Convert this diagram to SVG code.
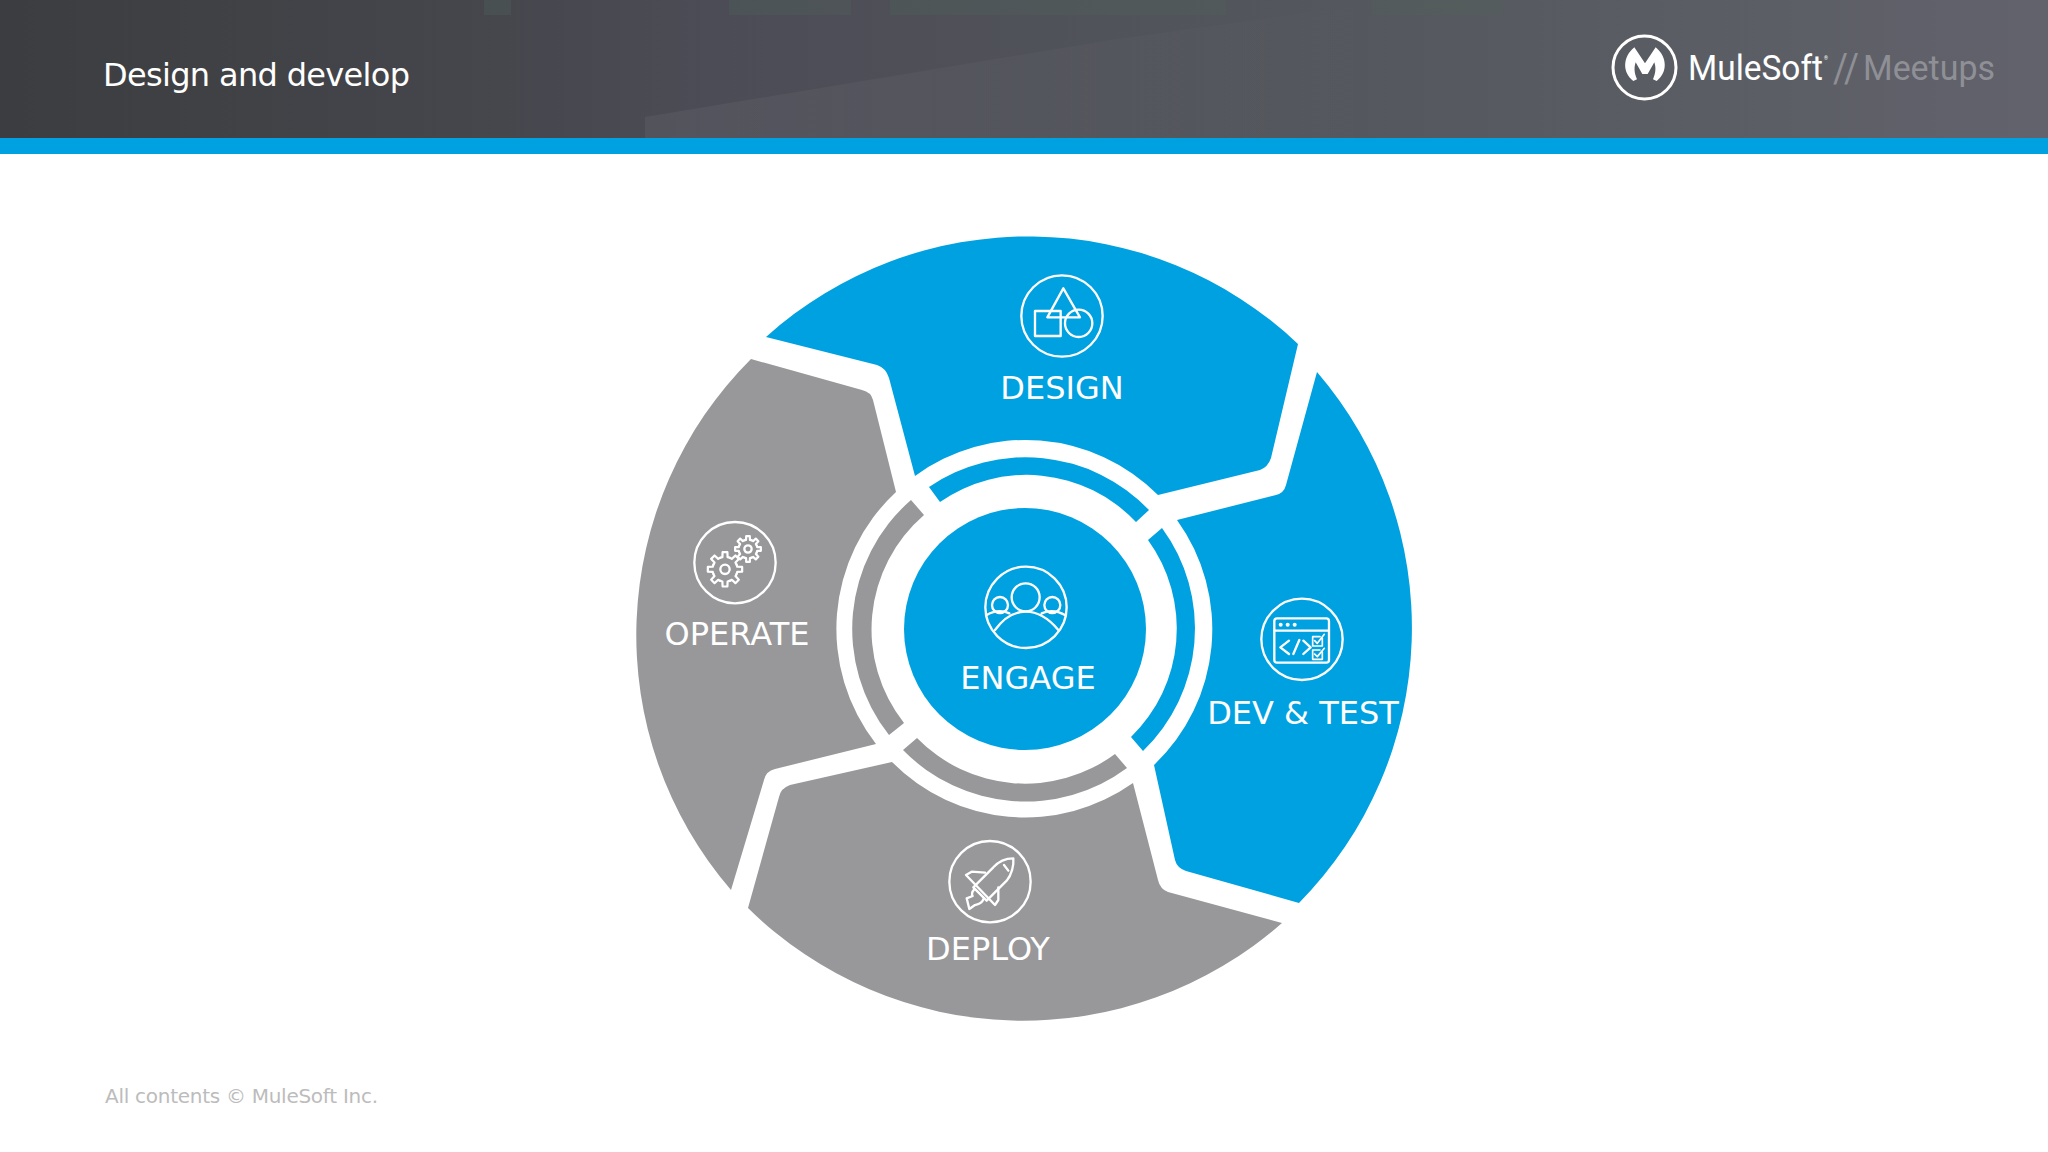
<svg xmlns="http://www.w3.org/2000/svg" width="2048" height="1152" viewBox="0 0 2048 1152">
<style>
.blue{fill:#00a1e0}
.gray{fill:#98979a}
.lbl{font-family:"DejaVu Sans",sans-serif;font-size:32px;fill:#fff;text-anchor:middle}
.ic{fill:none;stroke:#fff;stroke-width:7;stroke-linejoin:round;stroke-linecap:round}
.np{vector-effect:non-scaling-stroke;stroke-width:2.2}
.band{fill:#50605a;opacity:.35}
</style>
<defs>
<linearGradient id="hdr" x1="0" x2="1" y1="0" y2="0">
<stop offset="0" stop-color="#3c3d40"/>
<stop offset=".2" stop-color="#44454a"/>
<stop offset=".35" stop-color="#4b4c55"/>
<stop offset=".6" stop-color="#53555c"/>
<stop offset=".8" stop-color="#595c62"/>
<stop offset="1" stop-color="#62626c"/>
</linearGradient>
<linearGradient id="lift" x1="0" x2="1" y1="0" y2="0">
<stop offset="0" stop-color="#fff" stop-opacity=".05"/>
<stop offset="1" stop-color="#fff" stop-opacity="0"/>
</linearGradient>
<path id="tooth" class="np" d="M66.5-27.6A72 72 0 0 1 70.4-15L99-13.9V13.9L70.4 15A72 72 0 0 1 66.5 27.6"/>
<g id="gear">
<use href="#tooth"/><use href="#tooth" transform="rotate(45)"/><use href="#tooth" transform="rotate(90)"/><use href="#tooth" transform="rotate(135)"/><use href="#tooth" transform="rotate(180)"/><use href="#tooth" transform="rotate(225)"/><use href="#tooth" transform="rotate(270)"/><use href="#tooth" transform="rotate(315)"/>
</g>
</defs>
<rect width="2048" height="1152" fill="#fff"/>
<g id="header">
<rect width="2048" height="138" fill="url(#hdr)"/>
<path d="M645 138V117L1111 40 1400 0V138Z" fill="url(#lift)"/>
<rect class="band" x="484" width="27" height="15"/>
<rect class="band" x="729" width="122" height="15"/>
<rect class="band" x="890" width="336" height="15"/>
<rect class="band" x="1372" width="130" height="15"/>
<rect y="138" width="2048" height="16" fill="#00a1e0"/>
<text x="103" y="86" font-family="'DejaVu Sans',sans-serif" font-size="32" fill="#fff" textLength="307">Design and develop</text>
</g>
<g id="logo">
<circle cx="1644.5" cy="67.5" r="31.5" fill="none" stroke="#fff" stroke-width="3"/>
<path transform="translate(1605 30) scale(.3333)" fill="#fff" d="M88 52L120 100 152 52C188 82 188 128 155 153L144 148C153 128 153 112 148 97L128 132H112L92 97C87 112 87 128 96 148L85 153C52 128 52 82 88 52Z"/>
<text x="1688" y="80" font-family="Roboto,sans-serif" font-size="35" fill="#fff" textLength="135" lengthAdjust="spacingAndGlyphs">MuleSoft</text>
<text x="1824" y="60" font-family="Roboto,sans-serif" font-size="5" fill="#fff">®</text>
<text x="1833" y="82" font-family="Roboto,sans-serif" font-size="40" fill="#8f9096" textLength="26" lengthAdjust="spacingAndGlyphs">//</text>
<text x="1863" y="80" font-family="Roboto,sans-serif" font-size="35" fill="#8f9096" textLength="132" lengthAdjust="spacingAndGlyphs">Meetups</text>
</g>
<g id="design">
<path class="blue" d="M766 337A392 392 0 0 1 1298 344L1271 458Q1268 467 1260 470L1158 495A187 187 0 0 0 915 476L889 378Q886 368 877 365Z"/>
<path class="blue" d="M929 487A171 171 0 0 1 1149 510L1136 522A151 151 0 0 0 940 502Z"/>
<g class="ic" transform="translate(1000 250) scale(.3333)">
<circle cx="186" cy="198" r="122"/>
<path d="M190 115L142 202H240Z"/>
<rect x="105" y="183" width="77" height="75"/>
<circle cx="236" cy="220" r="41"/>
</g>
<text class="lbl" x="1062" y="399">DESIGN</text>
</g>
<g id="dev-test">
<path class="blue" d="M1317 372A392 392 0 0 1 1299 903L1186 871Q1177 868 1175 860L1154 765A187 187 0 0 0 1177 520L1276 495Q1284 493 1286 485Z"/>
<path class="blue" d="M1162 528A170 170 0 0 1 1143 751L1131 737A151 151 0 0 0 1148 540Z"/>
<g class="ic" transform="translate(1240 590) scale(.3333)">
<circle cx="186" cy="148" r="122"/>
<rect x="103" y="85" width="164" height="133" rx="8"/>
<path d="M103 122H267M147 152L121 172 147 192M160 192L178 150M190 152L212 172 190 192"/>
<path d="M247 145V168H218V140H240M247 186V208H218V180H240M224 152L232 160 253 133M224 192L232 200 253 175" stroke-width="5"/>
<g fill="#fff" stroke="none"><circle cx="122" cy="104" r="6"/><circle cx="143" cy="104" r="6"/><circle cx="164" cy="104" r="6"/></g>
</g>
<text class="lbl" x="1303" y="724">DEV &amp; TEST</text>
</g>
<g id="deploy">
<path class="gray" d="M1282 923A392 392 0 0 1 748 908L779 797Q781 788 790 785L892 762A187 187 0 0 0 1133 783L1158 880Q1160 889 1168 892Z"/>
<path class="gray" d="M1127 768A171 171 0 0 1 903 750L917 738A151 151 0 0 0 1115 754Z"/>
<g class="ic" transform="translate(930 830) scale(.3333)">
<circle cx="180" cy="155" r="122"/>
<path d="M250 85C225 85 205 95 190 112L130 172 170 212 230 152C245 135 252 105 250 85Z"/>
<path d="M165 128L125 125 108 135 195 225 205 210 205 172M222 105L235 122M133 178C125 185 125 195 128 198L110 205 118 237 135 225C145 222 155 222 160 208"/>
</g>
<text class="lbl" x="988" y="960">DEPLOY</text>
</g>
<g id="operate">
<path class="gray" d="M731 890A390 390 0 0 1 751 359L862 390Q871 392 873 400L896 492A187 187 0 0 0 876 744L775 769Q766 771 764 780Z"/>
<path class="gray" d="M889 735A171 171 0 0 1 911 500L924 515A151 151 0 0 0 904 723Z"/>
<g class="ic" transform="translate(680 510) scale(.3333)">
<circle cx="165" cy="158" r="122"/>
<use href="#gear" transform="translate(135 178) scale(.52)"/>
<circle cx="135" cy="178" r="14"/>
<use href="#gear" transform="translate(204 117) scale(.39)"/>
<circle cx="204" cy="117" r="11"/>
</g>
<text class="lbl" x="737" y="645">OPERATE</text>
</g>
<g id="engage">
<circle class="blue" cx="1025" cy="629" r="121"/>
<g class="ic" transform="translate(970 560) scale(.3333)">
<circle cx="168" cy="142" r="122"/>
<circle cx="167" cy="112" r="42"/>
<circle cx="90" cy="135" r="24"/>
<circle cx="247" cy="135" r="24"/>
<path d="M75 210Q115 155 167 155T265 210M50 165Q85 145 118 160M215 160Q250 145 285 165"/>
</g>
<text class="lbl" x="1028" y="689">ENGAGE</text>
</g>
<text id="footer" x="105" y="1103" font-family="'DejaVu Sans',sans-serif" font-size="20" fill="#bcbcbc" textLength="273">All contents © MuleSoft Inc.</text>
</svg>
